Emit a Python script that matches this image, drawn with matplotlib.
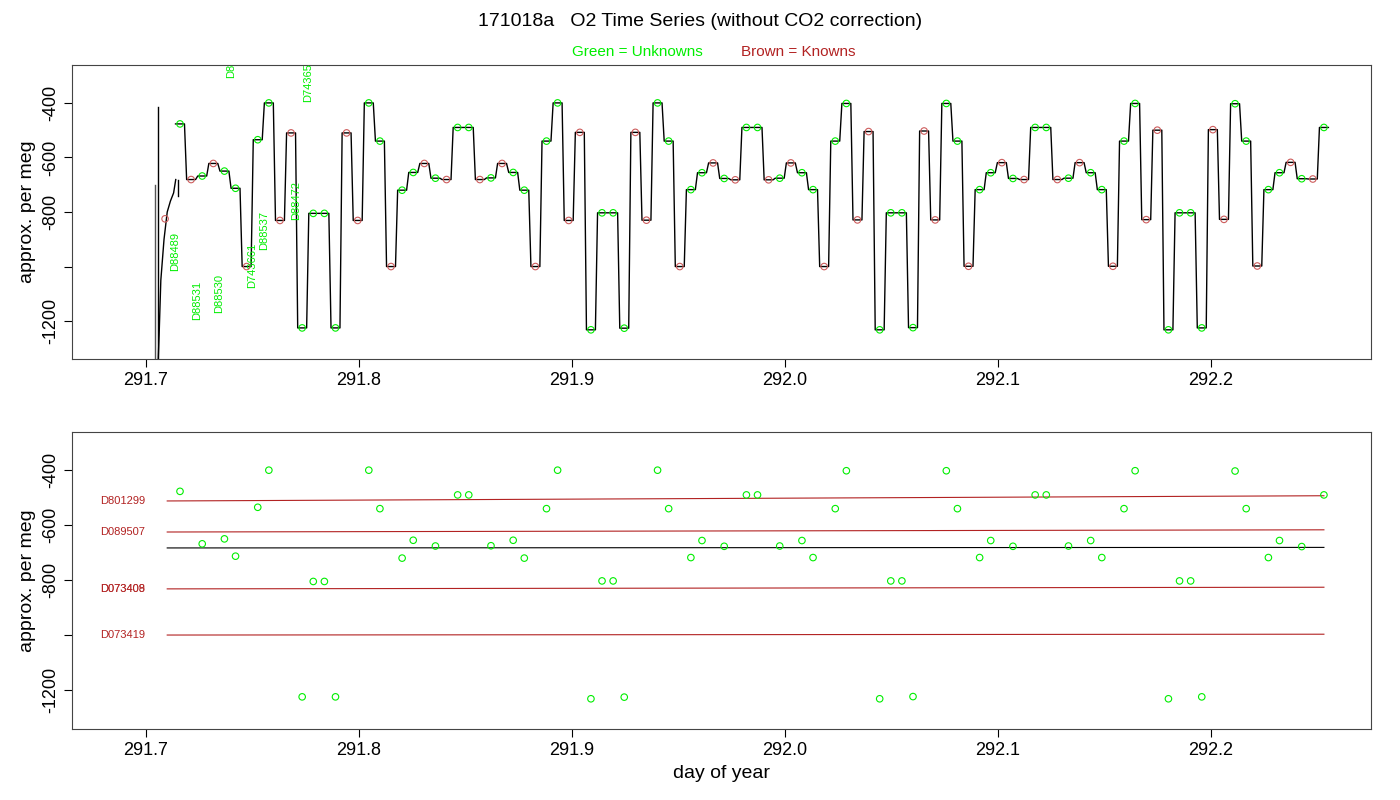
import numpy as np
import matplotlib
matplotlib.use("Agg")
import matplotlib.pyplot as plt

plt.rcParams["font.family"] = "Liberation Sans"

# ---- data ----
t_start, t_end = 291.716, 292.253
# sample kinds in time order: 'U' unknown, 'K' known
kinds = list("UKUKUUKUUKK" + ("UUUUKKUUKUUKUKUUKUKUUKUUKK" * 3) + "UUUUKKUUKUUKUKU")
levels = [-477, -681, -668, -622, -650, -713, -1000, -535, -400, -831, -510,
          -1225, -805, -805, -1225, -510, -831, -400, -540, -1000, -720, -655, -622, -676, -681, -490, -490,
          -681, -675, -622, -655, -720, -1000, -540, -400, -831, -508,
          -1232, -803, -803, -1226, -508, -830, -400, -540, -1000, -718, -656, -620, -677, -682, -490, -490,
          -682, -676, -620, -656, -718, -1000, -540, -402, -829, -505,
          -1232, -803, -803, -1224, -503, -829, -402, -540, -999, -718, -656, -619, -677, -681, -490, -490,
          -681, -676, -619, -656, -718, -999, -540, -402, -828, -500,
          -1232, -803, -803, -1225, -498, -827, -403, -540, -998, -718, -656, -618, -678, -679, -490]
times = np.linspace(t_start, t_end, len(levels))

# known reference lines (start, end values)
known_names = ["D801299", "D089507", "", "D073408", "D073419"]
known_start = [-512, -625, -683, -832, -1000]
known_end = [-493, -617, -681, -826, -997]
known_colors = ["#B22222", "#B22222", "black", "#B22222", "#B22222"]

# start-up trace
start_t = [291.7055, 291.7062, 291.7070, 291.7085, 291.7100, 291.7115, 291.7130, 291.7140]
start_v = [-1400, -1250, -1050, -900, -800, -760, -730, -681]
start_known = (291.709, -825)

top_labels = ["D88489", "D88531", "D88530", "D88", "D743661", "D88537", "D88472", "D743653"]
top_label_t = [291.7137, 291.7240, 291.7343, 291.7399, 291.7498, 291.7554, 291.7704, 291.7761]
top_label_v = [-1015, -1195, -1170, -310, -1080, -940, -830, -395]

xticks = [291.7, 291.8, 291.9, 292.0, 292.1, 292.2]
yticks = [-400, -600, -800, -1000, -1200]
ytick_labels = ["-400", "-600", "-800", "", "-1200"]

GREEN = "#00EE00"
BROWN = "#CD5C5C"

fig = plt.figure(figsize=(14, 8), dpi=100)
ax1 = fig.add_axes([72/1400, 1-359/800, 1299/1400, 294/800])
ax2 = fig.add_axes([72/1400, 1-729/800, 1299/1400, 297/800])

# ---- top panel ----
w = 0.0021
lx, ly = [], []
for t, v in zip(times, levels):
    lx += [t - w, t + w]
    ly += [v, v]
ax1.plot(lx, ly, color="black", lw=1.0)
ax1.plot(start_t, start_v, color="black", lw=1.0)
ax1.plot([291.7055, 291.7055], [-1400, -415], color="black", lw=1.0)
ax1.plot([291.7042, 291.7042], [-1400, -700], color="#555555", lw=1.0)
ax1.plot([291.7150, 291.7150], [-681, -740], color="black", lw=1.0)
ku = np.array([k == "U" for k in kinds])
ax1.scatter(times[ku], np.array(levels)[ku], s=22, facecolors="none", edgecolors=GREEN, lw=0.8, zorder=3)
ax1.scatter(times[~ku], np.array(levels)[~ku], s=22, facecolors="none", edgecolors=BROWN, lw=0.8, zorder=3)
ax1.scatter([start_known[0]], [start_known[1]], s=22, facecolors="none", edgecolors=BROWN, lw=0.8, zorder=3)
for s, t, v in zip(top_labels, top_label_t, top_label_v):
    ax1.text(t, v, s, rotation=90, color=GREEN, fontsize=8, ha="center", va="bottom", clip_on=True)
ax1.set_ylim(-1339, -261)

# ---- bottom panel ----
for name, a, b, c in zip(known_names, known_start, known_end, known_colors):
    ax2.plot([291.710, 292.253], [a, b], color=c, lw=0.8)
    if name:
        ax2.text(291.6785, a, name, color="#B22222", fontsize=8, va="center", ha="left")
ax2.text(291.6785, known_start[3], "D073409", color="#B22222", fontsize=8, va="center", ha="left", alpha=0.8)
ax2.scatter(times[ku], np.array(levels)[ku], s=22, facecolors="none", edgecolors=GREEN, lw=0.8, zorder=3)
ax2.set_ylim(-1342, -261)

for ax in (ax1, ax2):
    ax.set_xlim(291.6653, 292.2751)
    ax.set_xticks(xticks)
    ax.set_xticklabels([f"{x:.1f}" for x in xticks], fontsize=13)
    ax.set_yticks(yticks)
    ax.set_yticklabels(ytick_labels, rotation=90, va="center", fontsize=13)
    ax.set_ylabel("approx. per meg", fontsize=14)
    ax.tick_params(direction="out", length=6)
    for sp in ax.spines.values():
        sp.set_color("#444444")

ax2.set_xlabel("day of year", fontsize=14)
fig.text(0.5, 1-22/800, "171018a   O2 Time Series (without CO2 correction)", ha="center", va="center", fontsize=14)
fig.text(0.455, 1-52/800, "Green = Unknowns", ha="center", va="center", fontsize=11, color=GREEN)
fig.text(0.57, 1-52/800, "Brown = Knowns", ha="center", va="center", fontsize=11, color="#B22222")

fig.savefig("out.png", dpi=100)
